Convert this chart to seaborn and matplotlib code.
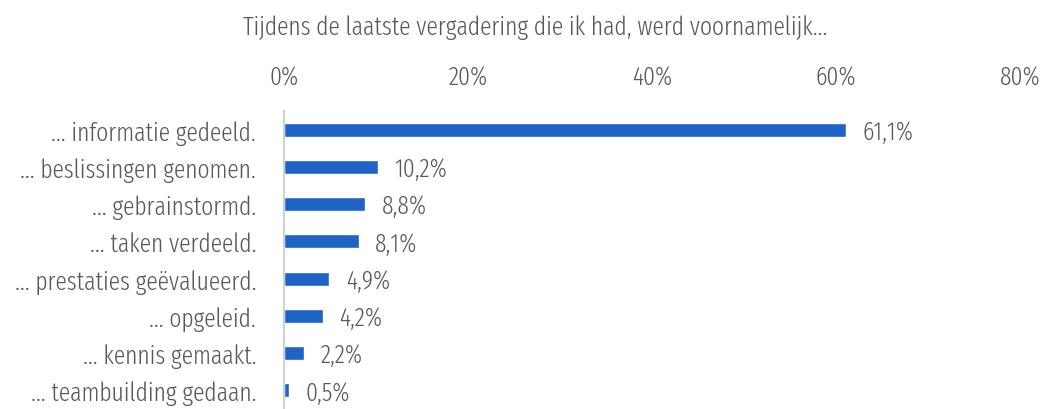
import matplotlib
matplotlib.use("Agg")
import matplotlib.pyplot as plt
import seaborn as sns
import pandas as pd

categories = ["... informatie gedeeld.", "... beslissingen genomen.", "... gebrainstormd.",
              "... taken verdeeld.", "... prestaties geëvalueerd.", "... opgeleid.",
              "... kennis gemaakt.", "... teambuilding gedaan."]
values = [61.1, 10.2, 8.8, 8.1, 4.9, 4.2, 2.2, 0.5]
ticks = [0, 20, 40, 60, 80]
title = "Tijdens de laatste vergadering die ik had, werd voornamelijk..."

sns.set_style("white")
plt.rcParams["font.family"] = ["Fira Sans Extra Condensed", "DejaVu Sans"]
plt.rcParams["font.weight"] = 300
txt = "#595959"
fs = 18.5

df = pd.DataFrame({"cat": categories, "val": values})

fig = plt.figure(figsize=(10.48, 4.10), dpi=100)
ax = fig.add_axes([284 / 1048, 0.0, (1020 - 284) / 1048, 1 - 112 / 410])
sns.barplot(data=df, x="val", y="cat", color="#1F63C6", width=0.37, ax=ax, saturation=1)

ax.set_xlim(0, 80)
ax.set_ylim(7.5, -0.5)
ax.xaxis.tick_top()
ax.set_xticks(ticks)
ax.set_xticklabels([f"{t}%" for t in ticks], fontsize=fs, color=txt)
ax.tick_params(axis="x", length=0, pad=15)
ax.tick_params(axis="y", length=0, pad=20, labelsize=fs, labelcolor=txt)
ax.set_xlabel("")
ax.set_ylabel("")
for s in ["top", "right", "bottom"]:
    ax.spines[s].set_visible(False)
ax.spines["left"].set_color("#D0D0D0")
ax.spines["left"].set_linewidth(1.5)

for i, v in enumerate(values):
    ax.text(v + 1.8, i + 0.05, f"{v:.1f}%".replace(".", ","), va="center", ha="left",
            fontsize=fs, color=txt)

fig.text(535 / 1048, 1 - 28 / 410, title, ha="center", va="center", fontsize=fs, color=txt)

fig.savefig("out.png", dpi=100)
